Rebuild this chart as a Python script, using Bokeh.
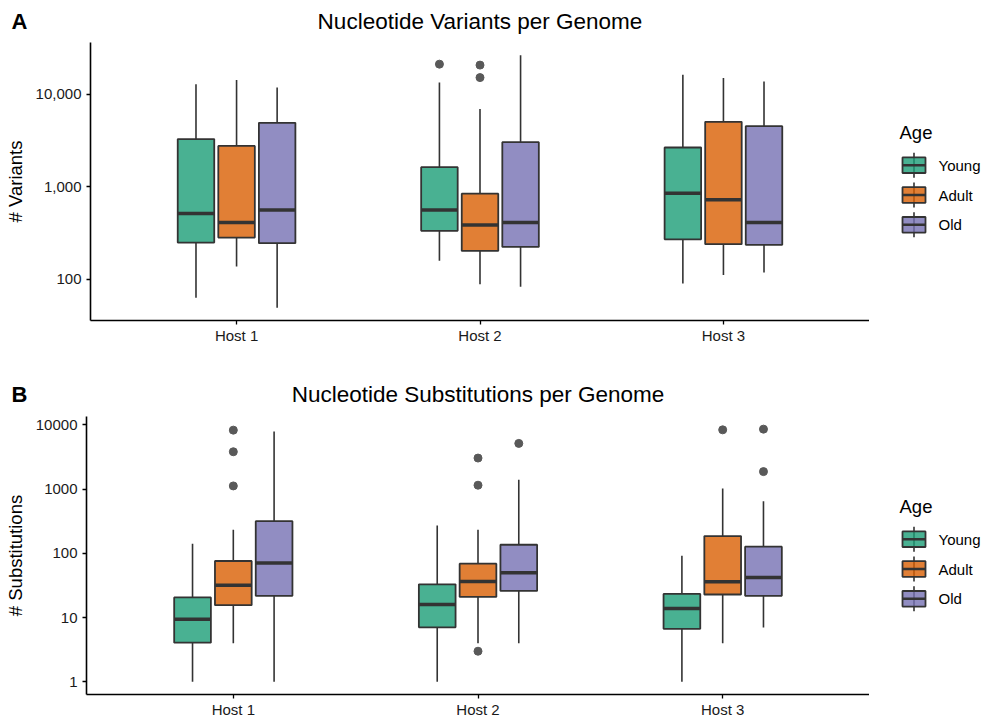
import numpy as np
from bokeh.plotting import figure
from bokeh.layouts import column, row
from bokeh.models import (ColumnDataSource, FixedTicker, NumeralTickFormatter,
                          Range1d)
from bokeh.core.properties import value
from bokeh.embed import file_html
from bokeh.resources import INLINE

# ---------------- data ----------------
hosts = ["Host 1", "Host 2", "Host 3"]
ages = ["Young", "Adult", "Old"]
age_colors = ["#1B9E77", "#D95F02", "#7570B3"]

# Panel A: variants per genome, order = (Host1: Young, Adult, Old), (Host2 ...), (Host3 ...)
var_low = [63, 137, 49, 158, 88, 83, 90, 111, 118]
var_q1 = [249, 282, 245, 333, 202, 223, 270, 239, 235]
var_median = [512, 409, 561, 561, 386, 409, 851, 720, 409]
var_q3 = [3270, 2760, 4900, 1626, 841, 3030, 2650, 5020, 4510]
var_high = [12800, 14200, 11800, 13400, 6890, 26400, 16200, 14900, 13700]
var_out_host = ["Host 2", "Host 2", "Host 2"]
var_out_age = ["Young", "Adult", "Adult"]
var_out_value = [21100, 20600, 15100]
var_ticks = [100, 1000, 10000]

# Panel B: substitutions per genome
sub_low = [1, 4, 1, 1, 4, 4, 1, 4, 7]
sub_q1 = [4.07, 15.6, 21.8, 7.05, 21, 26, 6.7, 22.9, 21.8]
sub_median = [9.4, 31.9, 70.8, 16, 36.4, 50, 13.9, 36, 42]
sub_q3 = [20.6, 76, 317, 33, 69, 136, 23.4, 186, 127]
sub_high = [141, 233, 7880, 272, 233, 1400, 92, 1020, 647]
sub_out_host = ["Host 1", "Host 1", "Host 1", "Host 2", "Host 2", "Host 2",
                "Host 2", "Host 3", "Host 3", "Host 3"]
sub_out_age = ["Adult", "Adult", "Adult", "Adult", "Adult", "Adult",
               "Old", "Adult", "Old", "Old"]
sub_out_value = [8270, 3810, 1120, 3040, 1150, 3, 5140, 8360, 8570, 1870]
sub_ticks = [1, 10, 100, 1000, 10000]

# ---------------- style ----------------
FONT = "Liberation Sans"
DODGE = 1 / 6
BOX_W = 0.15
LINE = "#333333"
FRAME_RIGHT = 869
FRAME_H = 278
TOTAL_W = 983
LEG_W = TOTAL_W - FRAME_RIGHT


def blank(width, height, top=0, bottom=0):
    f = figure(frame_width=width, frame_height=height,
               x_range=Range1d(0, width), y_range=Range1d(height, 0),
               output_backend="svg", toolbar_location=None,
               min_border_left=0, min_border_right=0,
               min_border_top=top, min_border_bottom=bottom, title=None,
               x_axis_location=None, y_axis_location=None)
    f.outline_line_color = None
    f.background_fill_color = "white"
    f.border_fill_color = "white"
    f.xgrid.visible = False
    f.ygrid.visible = False
    return f


def header(tag, title, height, text_y, title_x):
    h = blank(TOTAL_W, height)
    h.text(x=[11], y=[text_y], text=[tag], text_font=value(FONT),
           text_font_size=value("22px"), text_font_style="bold",
           text_color="black", text_baseline="middle", text_align="left")
    h.text(x=[title_x], y=[text_y], text=[title], text_font=value(FONT),
           text_font_size=value("22.5px"), text_color="black",
           text_baseline="middle", text_align="center")
    return h


def legend_fig(bottom):
    # coordinates are pixels measured from the top of the plotting frame
    lf = blank(LEG_W, FRAME_H, top=2, bottom=bottom)
    lf.text(x=[30], y=[90], text=["Age"], text_font=value(FONT),
            text_font_size=value("18.5px"), text_color="black",
            text_baseline="middle", text_align="left")
    cy = [122.7 + 29.8 * i for i in range(len(ages))]
    src = ColumnDataSource(dict(
        cy=cy, top=[c - 7.8 for c in cy], bot=[c + 7.8 for c in cy],
        wt=[c - 12.5 for c in cy], wb=[c + 12.5 for c in cy],
        color=age_colors, label=ages))
    lf.segment(x0=44.5, y0="wt", x1=44.5, y1="wb", source=src,
               line_color=LINE, line_width=1.6)
    lf.quad(left=33, right=56, top="top", bottom="bot", source=src,
            fill_color="color", fill_alpha=0.8, line_color=LINE,
            line_width=1.8)
    lf.segment(x0=33, y0="cy", x1=56, y1="cy", source=src,
               line_color=LINE, line_width=2.5)
    lf.text(x=69, y="cy", text="label", source=src, text_font=value(FONT),
            text_font_size=value("15px"), text_color="black",
            text_baseline="middle", text_align="left")
    return lf


def make_panel(ylabel, low, q1, med, q3, high, out_host, out_age,
               out_val, yticks, yfmt, left, bottom):
    allv = low + high + out_val
    lo, hi = np.log10(min(allv)), np.log10(max(allv))
    pad = 0.05 * (hi - lo)
    ylo, yhi = lo - pad, hi + pad
    frame_w = FRAME_RIGHT - left
    p = figure(frame_width=frame_w, frame_height=FRAME_H,
               x_range=Range1d(0.4, 3.6),
               y_range=Range1d(10 ** ylo, 10 ** yhi),
               y_axis_type="log", output_backend="svg", toolbar_location=None,
               min_border_left=left, min_border_right=0,
               min_border_top=2, min_border_bottom=bottom, title=None)
    p.background_fill_color = "white"
    p.border_fill_color = "white"
    p.outline_line_color = None
    p.grid.visible = False

    for a, age in enumerate(ages):
        idx = [h * 3 + a for h in range(len(hosts))]
        xs = [h + 1 + (a - 1) * DODGE for h in range(len(hosts))]
        src = ColumnDataSource(dict(
            x=xs,
            x0=[x - BOX_W / 2 for x in xs],
            x1=[x + BOX_W / 2 for x in xs],
            low=[low[i] for i in idx],
            q1=[q1[i] for i in idx],
            med=[med[i] for i in idx],
            q3=[q3[i] for i in idx],
            high=[high[i] for i in idx],
        ))
        p.segment(x0="x", y0="low", x1="x", y1="q1", source=src,
                  line_color=LINE, line_width=1.6)
        p.segment(x0="x", y0="q3", x1="x", y1="high", source=src,
                  line_color=LINE, line_width=1.6)
        p.vbar(x="x", width=BOX_W, bottom="q1", top="q3", source=src,
               fill_color=age_colors[a], fill_alpha=0.8,
               line_color=LINE, line_width=1.8)
        p.segment(x0="x0", y0="med", x1="x1", y1="med", source=src,
                  line_color=LINE, line_width=3.5)

    ox = [hosts.index(h) + 1 + (ages.index(a) - 1) * DODGE
          for h, a in zip(out_host, out_age)]
    p.scatter(ox, out_val, size=8, color="#595959")

    for ax in (p.xaxis[0], p.yaxis[0]):
        ax.axis_line_color = "black"
        ax.axis_line_width = 1.6
        ax.major_tick_line_color = "black"
        ax.major_tick_line_width = 1.3
        ax.major_tick_out = 4
        ax.major_tick_in = 0
        ax.minor_tick_line_color = None
        ax.major_label_text_font = FONT
        ax.major_label_text_font_size = "15px"
        ax.major_label_text_color = "#1a1a1a"
        ax.axis_label_text_font = FONT
        ax.axis_label_text_font_size = "18.5px"
        ax.axis_label_text_font_style = "normal"
        ax.axis_label_text_color = "black"

    p.xaxis.ticker = FixedTicker(ticks=[1, 2, 3])
    p.xaxis.major_label_overrides = {i + 1: h for i, h in enumerate(hosts)}
    p.xaxis.major_label_standoff = 2
    p.yaxis.ticker = FixedTicker(ticks=yticks)
    p.yaxis.formatter = NumeralTickFormatter(format=yfmt)
    p.yaxis.major_label_standoff = 5
    p.yaxis.axis_label = ylabel
    p.yaxis.axis_label_standoff = 7
    return p


pA = make_panel("# Variants", var_low, var_q1, var_median, var_q3, var_high,
                var_out_host, var_out_age, var_out_value, var_ticks, "0,0",
                90, 40)
pB = make_panel("# Substitutions", sub_low, sub_q1, sub_median, sub_q3,
                sub_high, sub_out_host, sub_out_age, sub_out_value, sub_ticks,
                "0", 86, 25)

hA = header("A", "Nucleotide Variants per Genome", 40, 20.5, (90 + FRAME_RIGHT) / 2)
hB = header("B", "Nucleotide Substitutions per Genome", 54, 33.5, (86 + FRAME_RIGHT) / 2)
lA = legend_fig(40)
lB = legend_fig(25)

layout = column(hA, row(pA, lA, spacing=0), hB, row(pB, lB, spacing=0),
                spacing=0)
open("out.html", "w").write(file_html(layout, INLINE))
